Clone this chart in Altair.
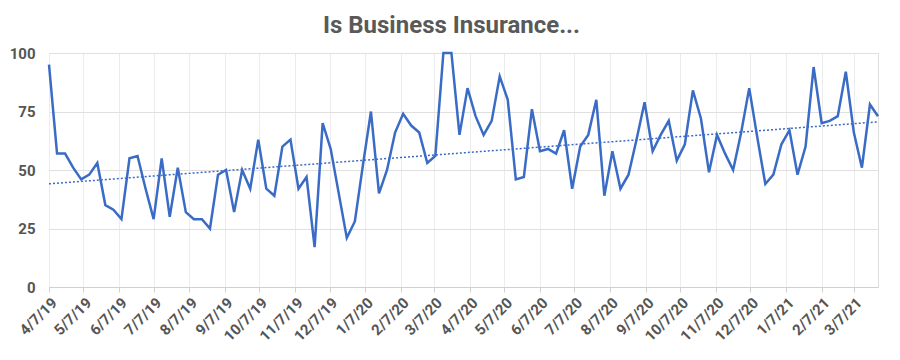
import altair as alt
import pandas as pd

values = [95, 57, 57, 51, 46, 48, 53, 35, 33, 29, 55, 56, 42, 29, 55, 30, 51, 32, 29, 29,
          25, 48, 50, 32, 50, 42, 63, 42, 39, 60, 63, 42, 47, 17, 70, 59, 40, 21, 28, 52,
          75, 40, 50, 66, 74, 69, 66, 53, 56, 100, 100, 65, 85, 73, 65, 71, 90, 80, 46, 47,
          76, 58, 59, 57, 67, 42, 60, 65, 80, 39, 58, 42, 48, 63, 79, 58, 65, 71, 54, 61,
          84, 72, 49, 65, 57, 50, 66, 85, 64, 44, 48, 61, 67, 48, 60, 94, 70, 71, 73, 92,
          66, 51, 78, 73]

start_date = "2019-04-07"
dates = pd.date_range(start_date, periods=len(values), freq="7D").strftime("%Y-%m-%dT00:00:00").tolist()

tick_months = [(2019, m) for m in range(4, 13)] + [(2020, m) for m in range(1, 13)] + [(2021, m) for m in range(1, 4)]
y_ticks = [0, 25, 50, 75, 100]

df = pd.DataFrame({"date": dates, "value": values})

blue = "#3a6cc6"
label_color = "#555555"

x_enc = alt.X(
    "date:T",
    scale=alt.Scale(domain=[alt.DateTime(year=2019, month=4, date=7),
                            alt.DateTime(year=2021, month=3, date=28)]),
    axis=alt.Axis(
        values=[alt.DateTime(year=y, month=m, date=7) for y, m in tick_months],
        tickCount=40,
        format="%-m/%-d/%y",
        labelAngle=-45,
        labelOverlap=False,
        labelBound=False,
        labelFlush=False,
        labelFont="Roboto",
        labelFontWeight="bold",
        labelFontSize=15,
        labelColor=label_color,
        labelPadding=3,
        tickColor="#d0d0d0",
        tickSize=5,
        domainColor="#d0d0d0",
        gridColor="#ececec",
        title=None,
    ),
)
y_enc = alt.Y(
    "value:Q",
    scale=alt.Scale(domain=[0, 100]),
    axis=alt.Axis(
        values=y_ticks,
        domain=False,
        ticks=False,
        labelFont="Roboto",
        labelFontWeight="bold",
        labelFontSize=15,
        labelColor=label_color,
        labelPadding=14,
        gridColor="#e0e0e0",
        title=None,
    ),
)

line = alt.Chart(df).mark_line(color=blue, strokeWidth=2.5).encode(x=x_enc, y=y_enc)
trend = (
    alt.Chart(df)
    .transform_regression("date", "value")
    .mark_line(color=blue, strokeWidth=1.5, strokeDash=[2, 2])
    .encode(x="date:T", y="value:Q")
)

chart = (
    alt.layer(line, trend)
    .properties(
        width=829,
        height=234,
        title=alt.TitleParams(
            "Is Business Insurance...",
            font="Roboto",
            fontSize=24,
            fontWeight="bold",
            color="#595959",
            anchor="middle",
            dx=-12,
            offset=8,
        ),
        autosize=alt.AutoSizeParams(type="none"),
        padding={"left": 41, "top": 45, "right": 14, "bottom": 60},
    )
    .configure_view(stroke=None)
    .configure(background="white")
)

chart.save("out.html", embed_options={"renderer": "svg", "actions": False})
